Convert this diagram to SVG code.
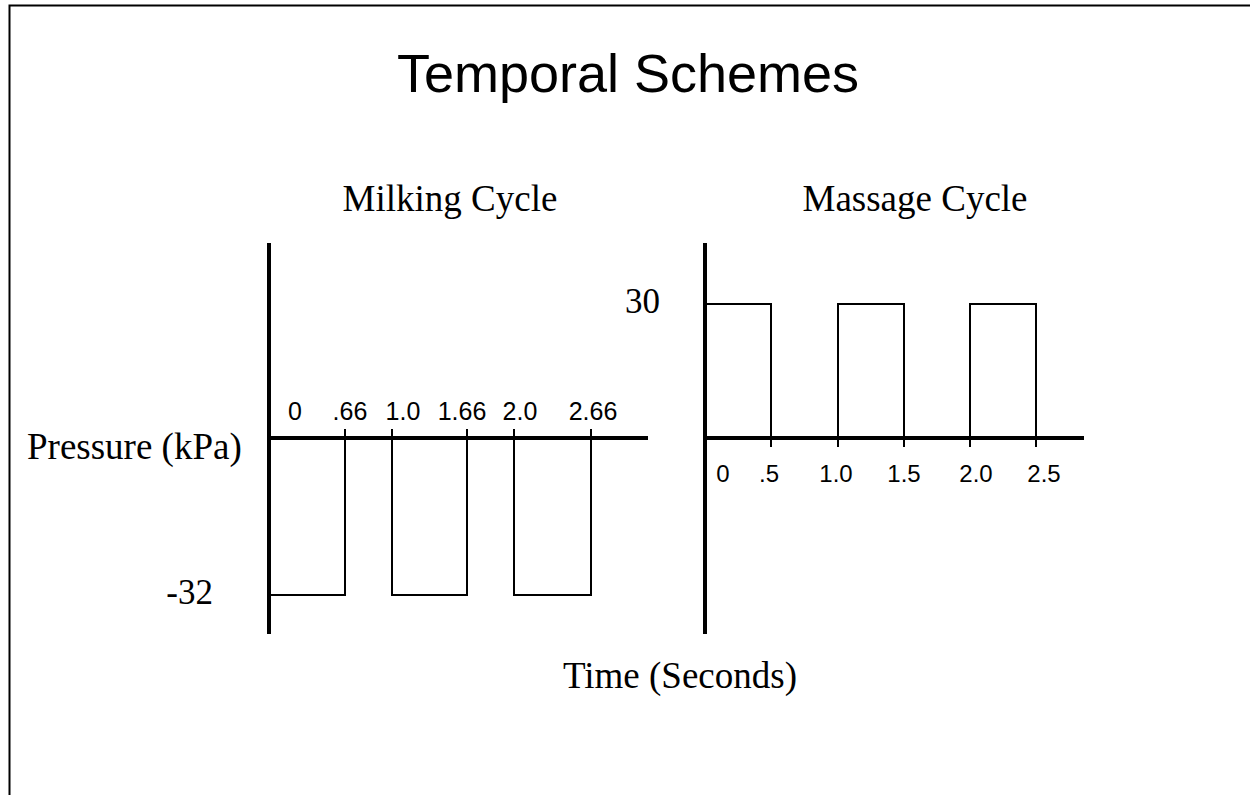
<svg xmlns="http://www.w3.org/2000/svg" width="1250" height="795" viewBox="0 0 1250 795">
<style>
.serif{font-family:"Liberation Serif","Times New Roman",serif;font-size:37px;fill:#000}
.sans{font-family:"Liberation Sans",Arial,sans-serif;font-size:24px;fill:#000}
.axis{stroke:#000;stroke-width:4;fill:none}
.wave{stroke:#000;stroke-width:2;fill:none}
</style>
<rect width="1250" height="795" fill="#fff"/>
<path d="M9.5,795 V5.5 H1250" stroke="#000" stroke-width="2" fill="none"/>
<text x="628" y="92" text-anchor="middle" style="font-family:'Liberation Sans',Arial,sans-serif;font-size:54px">Temporal Schemes</text>
<g id="milking">
<text class="serif" x="450" y="211" text-anchor="middle">Milking Cycle</text>
<line class="axis" x1="269" y1="243" x2="269" y2="634"/>
<line class="axis" x1="269" y1="438" x2="648" y2="438"/>
<path class="wave" d="M270,595 H345 V429 M392,429 V595 H467 V429 M514,429 V595 H591 V429"/>
<g class="sans" text-anchor="middle" style="font-size:25px">
<text x="295" y="420">0</text>
<text x="350" y="420">.66</text>
<text x="403" y="420">1.0</text>
<text x="462" y="420">1.66</text>
<text x="520" y="420">2.0</text>
<text x="593" y="420">2.66</text>
</g>
<text class="serif" x="213" y="604" text-anchor="end" style="font-size:35px">-32</text>
</g>
<g id="massage">
<text class="serif" x="915" y="211" text-anchor="middle">Massage Cycle</text>
<line class="axis" x1="705" y1="243" x2="705" y2="634"/>
<line class="axis" x1="705" y1="438" x2="1084" y2="438"/>
<path class="wave" d="M706,304 H771 V447 M838,447 V304 H904 V447 M970,447 V304 H1036 V447"/>
<g class="sans" text-anchor="middle">
<text x="723" y="482">0</text>
<text x="769" y="482">.5</text>
<text x="836" y="482">1.0</text>
<text x="904" y="482">1.5</text>
<text x="976" y="482">2.0</text>
<text x="1044" y="482">2.5</text>
</g>
<text class="serif" x="660" y="313" text-anchor="end" style="font-size:35px">30</text>
</g>
<text class="serif" x="27" y="459">Pressure (kPa)</text>
<text class="serif" x="680" y="688" text-anchor="middle">Time (Seconds)</text>
</svg>
